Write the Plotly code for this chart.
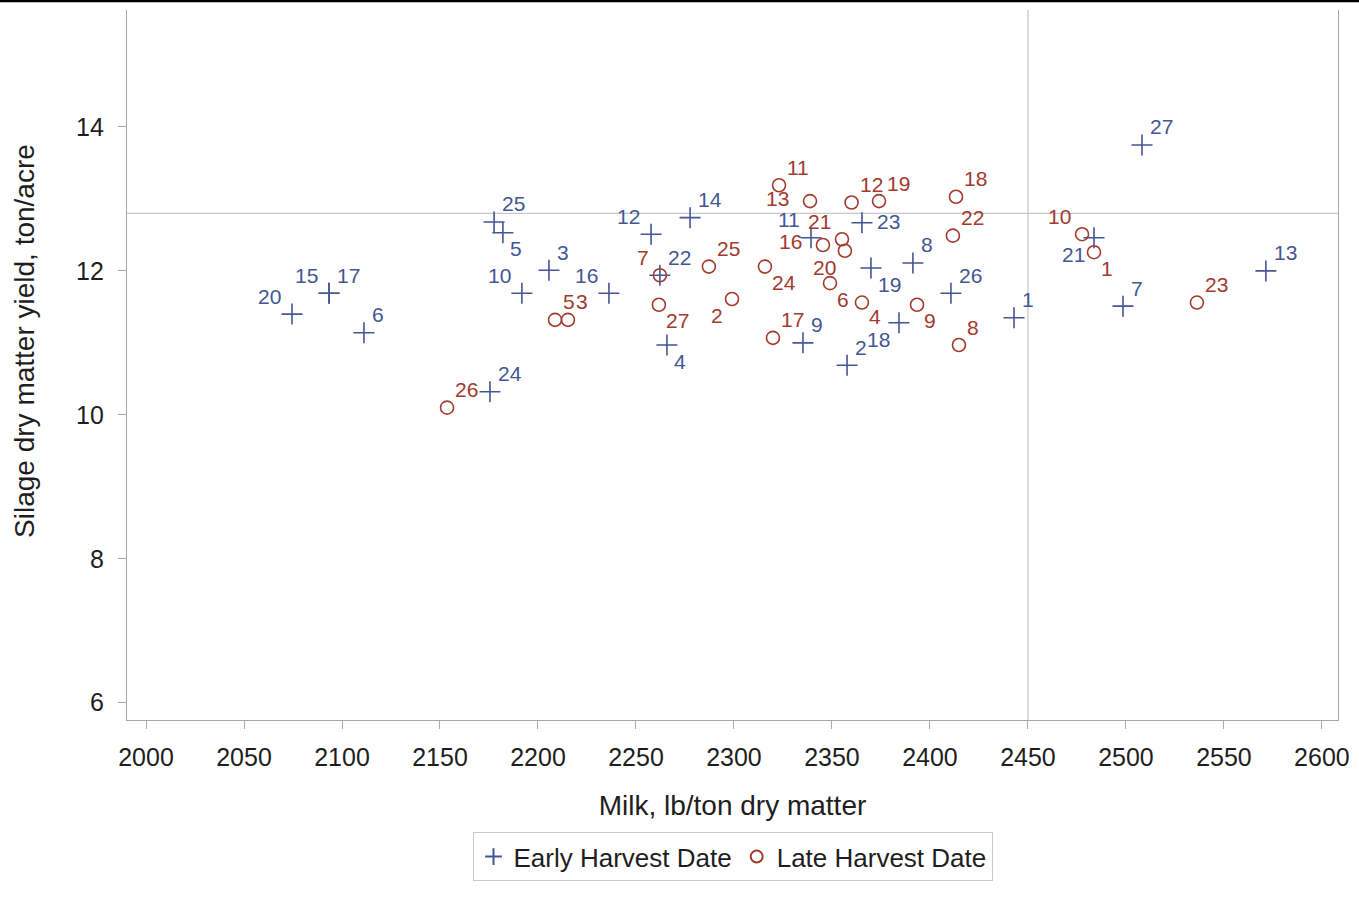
import plotly.graph_objects as go

# Hybrid trial results: milk per ton vs. silage dry-matter yield
early_id = ["20", "15", "17", "6", "24", "25", "5", "10", "3", "16", "12", "22", "14", "4",
            "9", "11", "23", "2", "19", "18", "8", "26", "1", "21", "7", "27", "13"]
early_milk = [2074.5, 2093.4, 2093.4, 2111.2, 2175.5, 2177.6, 2182.1, 2191.8, 2205.6, 2236.2,
              2257.7, 2262.2, 2277.6, 2265.8, 2335.2, 2339.3, 2365.3, 2357.7, 2369.9, 2384.2,
              2391.3, 2410.7, 2442.9, 2483.7, 2498.5, 2508.2, 2571.4]
early_yield = [11.40, 11.69, 11.69, 11.14, 10.32, 12.68, 12.53, 11.69, 12.01, 11.69,
               12.51, 11.94, 12.74, 10.97, 11.00, 12.46, 12.67, 10.69, 12.04, 11.28,
               12.11, 11.69, 11.35, 12.46, 11.51, 13.75, 12.00]

late_id = ["26", "5", "3", "7", "27", "25", "2", "24", "17", "11", "13", "12", "19",
           "16", "21", "20", "6", "4", "9", "18", "22", "8", "10", "1", "23"]
late_milk = [2153.6, 2208.7, 2215.3, 2262.2, 2261.7, 2287.2, 2299.0, 2315.8, 2319.9, 2323.0,
             2338.8, 2360.0, 2374.0, 2345.4, 2355.1, 2356.6, 2349.0, 2365.3, 2393.4, 2413.3,
             2411.7, 2414.8, 2477.6, 2483.7, 2536.2]
late_yield = [10.10, 11.32, 11.32, 11.94, 11.53, 12.06, 11.61, 12.06, 11.07, 13.19,
              12.97, 12.95, 12.97, 12.36, 12.44, 12.28, 11.83, 11.56, 11.53, 13.03,
              12.49, 10.97, 12.51, 12.26, 11.56]

REF_MILK = 2450
REF_YIELD = 12.8

# label placement around each marker (TR, TL, BR, BL, ML, MR)
early_pos = ["TL", "TL", "TR", "TR", "TR", "TR", "BR", "TL", "TR", "TL", "TL", "TR", "TR", "BR",
             "TR", "TL", "MR", "TR", "BR", "BL", "TR", "TR", "TR", "BL", "TR", "TR", "TR"]
late_pos = ["TR", "TR", "TR", "TL", "BR", "TR", "BL", "BR", "TR", "TR", "ML", "TR", "TR",
            "ML", "TL", "BL", "BR", "BR2", "BR", "TR", "TR", "TR", "TL", "BR", "TR"]

BLUE = "#445694"
RED = "#A23A2E"
INK = "#1e1e1e"
FONT = "Liberation Sans, Arial, sans-serif"

OFFSETS = {
    "TR": ("left", 6, 18),
    "TL": ("right", -9, 18),
    "BR": ("left", 5, -16),
    "BR2": ("left", 5, -14),
    "BL": ("right", -7, -17),
    "MR": ("left", 13, 1),
    "ML": ("right", -19, 3),
}

fig = go.Figure()

fig.add_trace(go.Scatter(
    x=early_milk, y=early_yield, mode="markers", name="Early Harvest Date",
    marker=dict(symbol="cross-thin-open", size=15, color=BLUE,
                line=dict(color=BLUE, width=1.6)),
    cliponaxis=False,
))
fig.add_trace(go.Scatter(
    x=late_milk, y=late_yield, mode="markers", name="Late Harvest Date",
    marker=dict(symbol="circle-open", size=13, color=RED,
                line=dict(color=RED, width=1.6)),
    cliponaxis=False,
))

annotations = []
for ids, xs, ys, pos, col in [(early_id, early_milk, early_yield, early_pos, BLUE),
                              (late_id, late_milk, late_yield, late_pos, RED)]:
    for lab, xv, yv, p in zip(ids, xs, ys, pos):
        anchor, dx, dy = OFFSETS[p]
        annotations.append(dict(
            x=xv, y=yv, xref="x", yref="y", text=lab, showarrow=False,
            xanchor=anchor, yanchor="middle", xshift=dx, yshift=dy,
            font=dict(family=FONT, size=21, color=col),
        ))

# vertical axis title
annotations.append(dict(
    x=-0.0842, y=0.534, xref="paper", yref="paper", text="Silage dry matter yield, ton/acre",
    showarrow=False, textangle=-90, xanchor="center", yanchor="middle",
    font=dict(family=FONT, size=28, color=INK),
))

fig.update_layout(
    width=1359, height=897,
    margin=dict(l=127, r=21, t=10, b=177),
    paper_bgcolor="white", plot_bgcolor="white",
    font=dict(family=FONT, color=INK),
    showlegend=True,
    legend=dict(
        orientation="h", x=0.5, xanchor="center", y=-0.158, yanchor="top",
        bordercolor="#c8c8c8", borderwidth=1,
        font=dict(family=FONT, size=26, color=INK),
        itemsizing="constant",
    ),
    annotations=annotations,
    shapes=[
        dict(type="line", xref="x", yref="paper", x0=REF_MILK, x1=REF_MILK, y0=0, y1=1,
             line=dict(color="#c8c8c8", width=1.3), layer="below"),
        dict(type="line", xref="paper", yref="y", x0=0, x1=1, y0=REF_YIELD, y1=REF_YIELD,
             line=dict(color="#c8c8c8", width=1.3), layer="below"),
        dict(type="line", xref="paper", yref="paper", x0=-0.11, x1=1.02, y0=1.0128, y1=1.0128,
             line=dict(color="#000000", width=2.5)),
    ],
)

fig.update_xaxes(
    range=[1990.3, 2608.2], tickmode="linear", tick0=2000, dtick=50,
    showgrid=False, zeroline=False,
    showline=True, linecolor="#a8a8a8", linewidth=1.3,
    ticks="outside", ticklen=8, tickcolor="#a8a8a8", tickwidth=1.3,
    ticklabelstandoff=7,
    tickfont=dict(family=FONT, size=25, color=INK),
    title=dict(text="Milk, lb/ton dry matter", standoff=25,
               font=dict(family=FONT, size=28, color=INK)),
)
fig.update_yaxes(
    range=[5.76, 15.625], tickvals=[6, 8, 10, 12, 14],
    showgrid=False, zeroline=False,
    showline=True, mirror=True, linecolor="#a8a8a8", linewidth=1.3,
    ticks="outside", ticklen=8, tickcolor="#a8a8a8", tickwidth=1.3,
    ticklabelstandoff=9,
    tickfont=dict(family=FONT, size=25, color=INK),
)

fig.write_html("out.html")
